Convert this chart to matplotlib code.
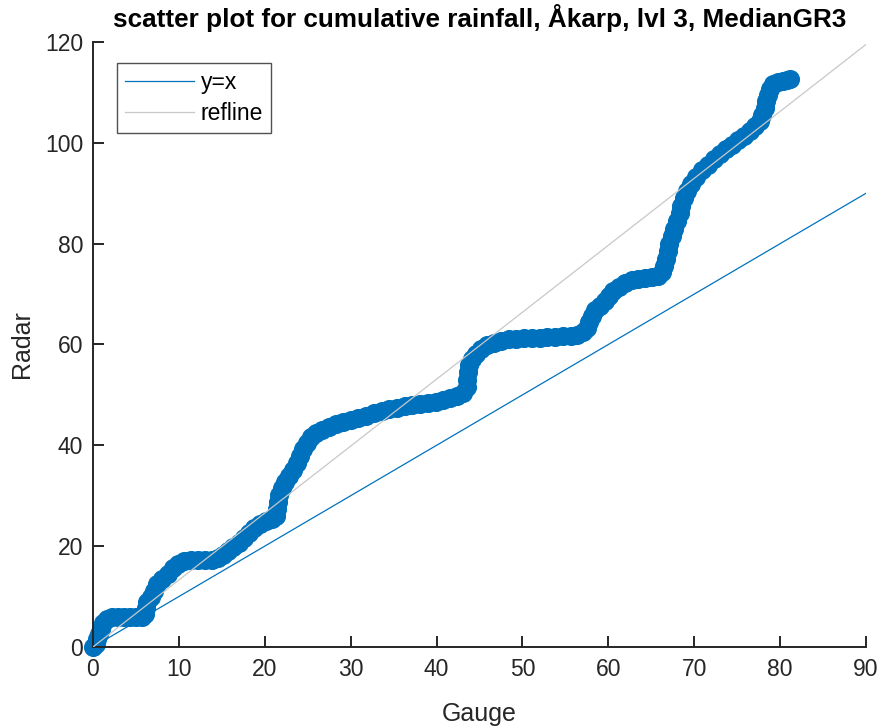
import numpy as np
import matplotlib.pyplot as plt

# cumulative rainfall, gauge vs radar
gauge = [0, 0.3, 0.5, 0.7, 0.9, 1.2, 1.6, 2.2, 2.9, 3.6, 4.3, 5, 5.7, 6.1, 6.2, 6.3, 6.7, 7.1, 7.5, 8,
         8.7, 9.3, 9.9, 10.6, 11.4, 12.2, 13, 13.8, 14.5, 15.1, 15.7, 16.3, 17, 17.6, 18.2, 18.8, 19.5,
         20.2, 20.9, 21.3, 21.4, 21.5, 21.7, 22, 22.4, 22.8, 23.3, 23.7, 24.1, 24.5, 24.9, 25.4, 26,
         26.7, 27.5, 28.3, 29.1, 30, 30.9, 31.8, 32.7, 33.6, 34.5, 35.4, 36.3, 37.2, 38.1, 39, 39.9,
         40.8, 41.6, 42.4, 43.1, 43.5, 43.6, 43.7, 43.8, 44.1, 44.6, 45.2, 45.9, 46.7, 47.5, 48.4,
         49.3, 50.2, 51.1, 52, 52.9, 53.8, 54.7, 55.6, 56.4, 57, 57.5, 57.8, 58.1, 58.5, 59, 59.6,
         60.1, 60.6, 61.2, 61.9, 62.7, 63.5, 64.3, 65.1, 65.8, 66.3, 66.5, 66.7, 66.9, 67.1, 67.4,
         67.7, 68, 68.3, 68.5, 68.8, 69.1, 69.6, 70.2, 70.9, 71.6, 72.3, 73, 73.7, 74.4, 75.1, 75.8,
         76.5, 77.1, 77.6, 77.9, 78.2, 78.4, 78.6, 78.8, 79.2, 79.7, 80.3, 80.8, 81.1]
radar = [0, 0.6, 1.5, 2.6, 3.6, 4.7, 5.6, 5.9, 5.9, 5.9, 5.9, 5.9, 6, 6.6, 7.8, 9, 10, 11.2, 12.5, 13.5,
         14.5, 15.6, 16.5, 17, 17.2, 17.3, 17.3, 17.3, 17.6, 18.3, 19, 19.8, 20.7, 21.6, 22.6, 23.6, 24.3,
         24.9, 25.4, 26, 27.4, 28.8, 30.2, 31.5, 32.8, 34, 35.2, 36.5, 37.8, 39.2, 40.5, 41.6, 42.4,
         43, 43.6, 44.2, 44.6, 45, 45.4, 45.9, 46.4, 46.8, 47.2, 47.5, 47.7, 47.9, 48.1, 48.3, 48.6,
         49, 49.4, 49.8, 50.3, 51.5, 53, 54.5, 56, 57.2, 58.2, 59.1, 59.8, 60.3, 60.7, 61,
         61.1, 61.2, 61.3, 61.3, 61.4, 61.5, 61.6, 61.7, 61.9, 62.4, 63.3, 64.5, 65.7, 66.8, 67.7, 68.6,
         69.6, 70.6, 71.5, 72.2, 72.7, 73, 73.2, 73.4, 73.6, 74.3, 75.6, 77, 78.5, 80, 81.5,
         83, 84.5, 86, 87.5, 89, 90.5, 91.9, 93.3, 94.6, 95.7, 96.8, 97.8, 98.7, 99.6, 100.5, 101.4,
         102.3, 103.3, 104.4, 105.6, 106.9, 108.2, 109.5, 110.7, 111.6, 112, 112.2, 112.4, 112.6]

refline_slope = 1.328
x_limits = [0, 90]
y_limits = [0, 120]

plt.rcParams['font.family'] = ['Liberation Sans', 'DejaVu Sans']
axis_col = '#262626'

fig = plt.figure(figsize=(8.82, 7.28), dpi=100)
ax = fig.add_axes([0.1054, 0.1113, 0.8765, 0.831])

ax.scatter(gauge, radar, s=150, marker='o', facecolor='#0072BD', edgecolor='#0072BD',
           linewidths=1.5, zorder=2, clip_on=False)

xx = np.array(x_limits, dtype=float)
ax.plot(xx, xx, color='#0072BD', lw=0.9, label='y=x', zorder=3)
ax.plot(xx, refline_slope * xx, color='#c8c8c8', lw=0.9, label='refline', zorder=4)

ax.set_xlim(x_limits)
ax.set_ylim(y_limits)
ax.set_xticks(np.arange(0, 91, 10))
ax.set_yticks(np.arange(0, 121, 20))

for side in ['top', 'right']:
    ax.spines[side].set_visible(False)
for side in ['left', 'bottom']:
    ax.spines[side].set_color(axis_col)
    ax.spines[side].set_linewidth(1.4)
ax.tick_params(direction='in', length=8, width=1.4, colors=axis_col, labelsize=16.5)
ax.tick_params(axis='x', pad=8)
ax.tick_params(axis='y', pad=7)

ax.set_xlabel('Gauge', fontsize=18, color=axis_col, labelpad=15)
ax.set_ylabel('Radar', fontsize=18, color=axis_col, labelpad=8)
ax.set_title('scatter plot for cumulative rainfall, Åkarp, lvl 3, MedianGR3',
             fontsize=18.8, fontweight='bold', pad=11)

leg = ax.legend(loc='upper left', bbox_to_anchor=(0.031, 0.966), borderaxespad=0, fontsize=16.5,
                frameon=True, fancybox=False, edgecolor=axis_col, handlelength=3.0,
                borderpad=0.35, labelspacing=0.35, handletextpad=0.3)
leg.get_frame().set_linewidth(1.0)

fig.savefig('out.png', dpi=100)
